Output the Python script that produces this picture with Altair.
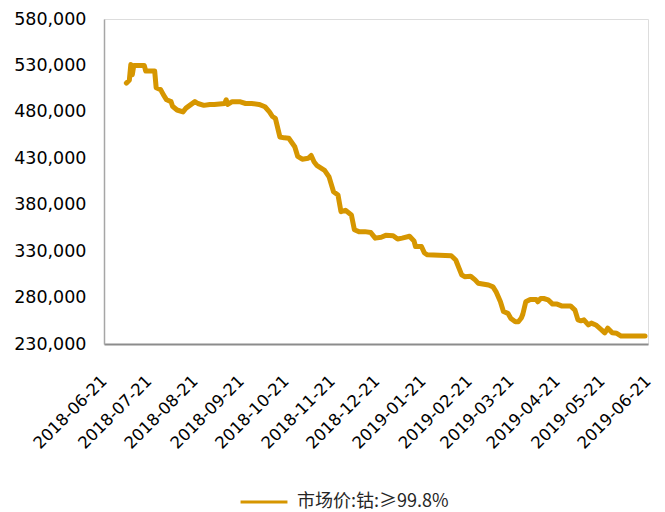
import altair as alt
import pandas as pd

# Cobalt (>=99.8%) market price, yuan per tonne
dates = [
    "2018-07-06", "2018-07-08", "2018-07-09", "2018-07-10", "2018-07-11",
    "2018-07-18", "2018-07-19", "2018-07-25", "2018-07-26", "2018-07-29",
    "2018-07-31", "2018-08-02", "2018-08-05", "2018-08-06", "2018-08-09",
    "2018-08-13", "2018-08-15", "2018-08-21", "2018-08-23", "2018-08-27",
    "2018-08-31", "2018-09-03", "2018-09-10", "2018-09-11", "2018-09-12",
    "2018-09-15", "2018-09-20", "2018-09-24", "2018-09-28", "2018-10-03",
    "2018-10-07", "2018-10-10", "2018-10-12", "2018-10-14", "2018-10-17",
    "2018-10-20", "2018-10-23", "2018-10-27", "2018-10-29", "2018-11-01",
    "2018-11-05", "2018-11-07", "2018-11-09", "2018-11-11", "2018-11-16",
    "2018-11-19", "2018-11-22", "2018-11-25", "2018-11-27", "2018-11-30",
    "2018-12-04", "2018-12-06", "2018-12-09", "2018-12-13", "2018-12-17",
    "2018-12-20", "2018-12-24", "2018-12-27", "2019-01-01", "2019-01-04",
    "2019-01-07", "2019-01-12", "2019-01-15", "2019-01-16", "2019-01-20",
    "2019-01-22", "2019-01-24", "2019-02-09", "2019-02-12", "2019-02-16",
    "2019-02-18", "2019-02-22", "2019-02-25", "2019-02-27", "2019-03-06",
    "2019-03-09", "2019-03-11", "2019-03-14", "2019-03-16", "2019-03-19",
    "2019-03-21", "2019-03-24", "2019-03-26", "2019-03-28", "2019-03-29",
    "2019-03-31", "2019-04-03", "2019-04-07", "2019-04-08", "2019-04-10",
    "2019-04-12", "2019-04-15", "2019-04-18", "2019-04-21", "2019-04-24",
    "2019-04-30", "2019-05-03", "2019-05-05", "2019-05-07", "2019-05-09",
    "2019-05-12", "2019-05-14", "2019-05-17", "2019-05-21", "2019-05-23",
    "2019-05-25", "2019-05-28", "2019-05-31", "2019-06-03", "2019-06-19",
]
prices = [
    511000, 514000, 531000, 520000, 530000,
    530000, 524000, 524000, 506000, 504000,
    498000, 493000, 491000, 486000, 482000,
    480000, 484000, 491000, 489000, 487000,
    488000, 488000, 489000, 493000, 488000,
    491000, 491000, 489000, 489000, 488000,
    485500, 480000, 475000, 473000, 453000,
    452000, 451500, 442500, 432000, 429000,
    430000, 433000, 426000, 422000, 417000,
    410000, 394000, 390500, 372500, 374000,
    369000, 353000, 351000, 351000, 350000,
    344000, 345000, 347000, 346500, 343000,
    344000, 346000, 341000, 335000, 335000,
    328000, 326000, 325000, 320500, 304500,
    302500, 303000, 299000, 295500, 293500,
    291500, 286500, 275500, 265000, 263000,
    257500, 254000, 254000, 258000, 262000,
    275500, 278000, 278000, 275500, 279000,
    279000, 277500, 273000, 273000, 271000,
    271000, 266500, 256000, 255000, 256000,
    250500, 252500, 250500, 245000, 242000,
    247000, 242000, 241500, 238500, 238500,
]

series_name = "市场价:钴:≥99.8%"
x_ticks = [
    "2018-06-21", "2018-07-21", "2018-08-21", "2018-09-21", "2018-10-21",
    "2018-11-21", "2018-12-21", "2019-01-21", "2019-02-21", "2019-03-21",
    "2019-04-21", "2019-05-21", "2019-06-21",
]
y_ticks = [230000, 280000, 330000, 380000, 430000, 480000, 530000, 580000]


def to_ms(s):
    return int(pd.Timestamp(s, tz="UTC").value // 10**6)


df = pd.DataFrame({"date": dates, "price": prices, "series": series_name})

line_color = "#D69600"
label_font = "DejaVu Sans"

chart = (
    alt.Chart(df)
    .mark_line(strokeWidth=5, strokeJoin="round", strokeCap="round")
    .encode(
        x=alt.X(
            "date:T",
            scale=alt.Scale(type="utc", domain=[to_ms(x_ticks[0]), to_ms(x_ticks[-1])]),
            axis=alt.Axis(
                title=None,
                values=[to_ms(t) for t in x_ticks],
                labelExpr="utcFormat(datum.value, '%Y-%m-%d')",
                labelAngle=-45,
                labelAlign="right",
                labelBaseline="middle",
                labelPadding=34,
                labelFontSize=16.5,
                labelFont=label_font,
                labelColor="#000000",
                labelOverlap=False,
                labelBound=False,
                labelFlush=False,
                ticks=False,
                grid=False,
                domainColor="#8C8C8C",
                domainWidth=2,
            ),
        ),
        y=alt.Y(
            "price:Q",
            scale=alt.Scale(domain=[230000, 580000], nice=False, zero=False),
            axis=alt.Axis(
                title=None,
                values=y_ticks,
                format=",d",
                labelFontSize=17.5,
                labelFont=label_font,
                labelColor="#000000",
                labelPadding=18,
                ticks=False,
                grid=False,
                domainColor="#A6A6A6",
                domainWidth=1.5,
            ),
        ),
        color=alt.Color(
            "series:N",
            scale=alt.Scale(range=[line_color]),
            legend=alt.Legend(
                title=None,
                orient="none",
                legendX=135,
                legendY=458,
                padding=0,
                symbolType="stroke",
                symbolSize=2200,
                symbolStrokeWidth=3,
                symbolStrokeColor=line_color,
                labelFont="Noto Sans CJK SC",
                labelFontSize=18,
                labelColor="#262626",
                labelOffset=8,
            ),
        ),
    )
    .properties(
        width=544,
        height=325,
        autosize=alt.AutoSizeParams(type="none"),
        padding={"left": 104, "top": 19, "right": 17, "bottom": 168},
    )
    .configure_view(stroke="transparent", strokeWidth=0)
    .configure(background="#FFFFFF")
)

chart.save("out.html", embed_options={"renderer": "svg", "actions": False})
